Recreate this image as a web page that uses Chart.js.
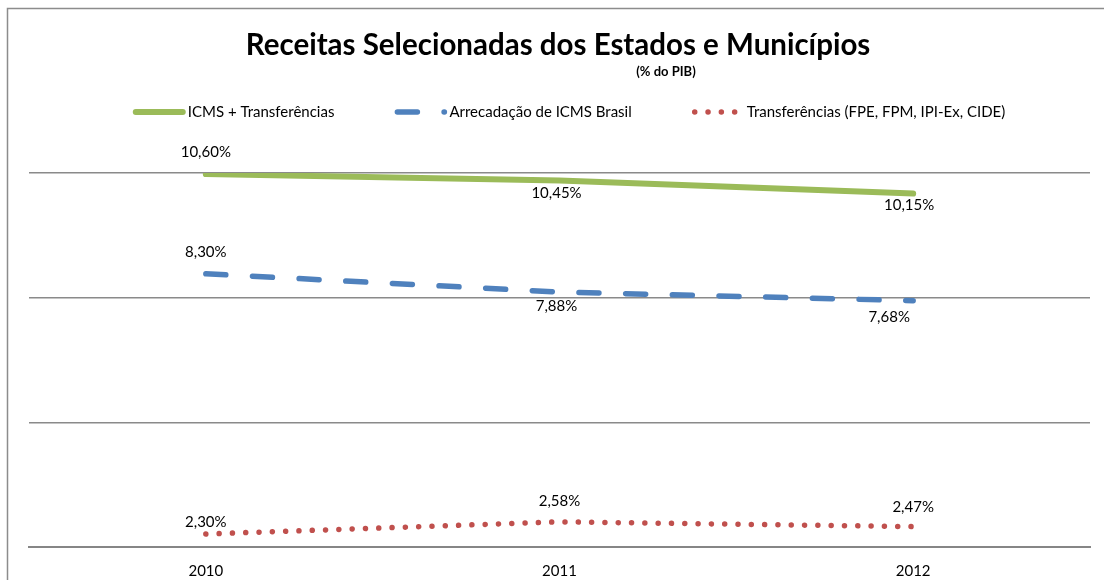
<!DOCTYPE html>
<html>
<head>
<meta charset="utf-8">
<script src="https://cdn.jsdelivr.net/npm/chart.js@4"></script>
<style>
  body { margin: 0; background: #fff; }
  #wrap { width: 1104px; height: 580px; position: relative; }
</style>
</head>
<body>
<div id="wrap"><canvas id="myChart" width="1104" height="580"></canvas></div>
<script>
// ! chart data
const years = ["2010", "2011", "2012"];
const icmsTransf = [10.6, 10.45, 10.15];
const icmsBrasil = [8.3, 7.88, 7.68];
const transferencias = [2.3, 2.58, 2.47];
const seriesNames = [
  "ICMS + Transferências",
  "Arrecadação de ICMS Brasil",
  "Transferências (FPE, FPM, IPI-Ex, CIDE)",
];

// y axis range (the axis has no labels, only grid lines)
const yMin = 2;
const yMax = 10.625;
const yStep = 2.875;

const titleText = "Receitas Selecionadas dos Estados e Municípios";
const subtitleText = "(% do PIB)";

const FONT = "Lato, 'Open Sans', sans-serif";

// where each data label sits relative to its point
const labelShift = [
  { dx: [0, -3, -4], dy: [-22, 13, 12] },
  { dx: [0, -3, -24], dy: [-22, 14, 16] },
  { dx: [0, 0, 0], dy: [-12, -21, -19] },
];

function fmt(v) {
  return v.toFixed(2).replace(".", ",") + "%";
}

// ! frame, title and legend drawn by hand
const decorPlugin = {
  id: "decor",
  beforeDraw(chart) {
    const ctx = chart.ctx;
    ctx.save();
    ctx.fillStyle = "#fff";
    ctx.fillRect(0, 0, chart.width, chart.height);

    // chart border (only left and top are visible)
    ctx.strokeStyle = "#8c8c8c";
    ctx.lineWidth = 1.5;
    ctx.beginPath();
    ctx.moveTo(7.5, chart.height);
    ctx.lineTo(7.5, 8.5);
    ctx.lineTo(chart.width, 8.5);
    ctx.stroke();

    // title
    ctx.fillStyle = "#000";
    ctx.textAlign = "center";
    ctx.textBaseline = "middle";
    ctx.font = "bold 29.5px " + FONT;
    ctx.fillText(titleText, 558, 45);
    ctx.font = "bold 13px " + FONT;
    ctx.fillText(subtitleText, 666, 72);

    // legend
    ctx.font = "15px " + FONT;
    const textGap = 55;
    const itemGap = 60;
    const widths = seriesNames.map((n) => textGap + ctx.measureText(n).width);
    const total = widths.reduce((a, b) => a + b, 0) + itemGap * (widths.length - 1);
    let x = 569 - total / 2;
    const y = 112;
    chart.data.datasets.forEach((ds, i) => {
      ctx.save();
      ctx.strokeStyle = ds.borderColor;
      ctx.lineWidth = ds.borderWidth;
      ctx.lineCap = ds.borderCapStyle;
      ctx.setLineDash(ds.borderDash || []);
      ctx.beginPath();
      ctx.moveTo(x + 3, y);
      ctx.lineTo(x + 50, y);
      ctx.stroke();
      ctx.restore();
      ctx.fillStyle = "#000";
      ctx.textAlign = "left";
      ctx.fillText(ds.label, x + textGap, y);
      x += widths[i] + itemGap;
    });
    ctx.restore();
  },
  afterDatasetsDraw(chart) {
    const ctx = chart.ctx;
    ctx.save();
    ctx.font = "15px " + FONT;
    ctx.fillStyle = "#000";
    ctx.textAlign = "center";
    ctx.textBaseline = "middle";
    chart.data.datasets.forEach((ds, i) => {
      const meta = chart.getDatasetMeta(i);
      meta.data.forEach((pt, j) => {
        const s = labelShift[i];
        ctx.fillText(fmt(ds.data[j]), pt.x + s.dx[j], pt.y + s.dy[j]);
      });
    });
    ctx.restore();
  },
};

const config = {
  type: "line",
  data: {
    labels: years,
    datasets: [
      {
        label: seriesNames[0],
        data: icmsTransf,
        borderColor: "#9BBB59",
        borderWidth: 6,
        borderCapStyle: "round",
        borderDash: [],
      },
      {
        label: seriesNames[1],
        data: icmsBrasil,
        borderColor: "#4F81BD",
        borderWidth: 5.5,
        borderCapStyle: "round",
        borderDash: [20, 26.7],
      },
      {
        label: seriesNames[2],
        data: transferencias,
        borderColor: "#C0504D",
        borderWidth: 5.5,
        borderCapStyle: "round",
        borderDash: [0.01, 13.3],
      },
    ],
  },
  options: {
    responsive: false,
    animation: false,
    devicePixelRatio: 1,
    layout: { padding: { top: 173, left: 29, right: 14, bottom: 0 } },
    elements: {
      point: { radius: 0 },
      line: { tension: 0, fill: false },
    },
    plugins: {
      legend: { display: false },
      title: { display: false },
      tooltip: { enabled: false },
    },
    scales: {
      x: {
        offset: true,
        grid: { display: false, drawTicks: false },
        border: { display: true, color: "#868686", width: 2 },
        ticks: { color: "#000", font: { family: FONT, size: 15 }, padding: 15 },
        afterFit: (s) => {
          s.height = 33;
        },
      },
      y: {
        min: yMin,
        max: yMax,
        ticks: { display: false, stepSize: yStep },
        grid: { color: "#8a8a8a", lineWidth: 1.5, drawTicks: false },
        border: { display: false },
        afterFit: (s) => {
          s.width = 0;
        },
      },
    },
  },
  plugins: [decorPlugin],
};

const myChart = new Chart(document.getElementById("myChart"), config);
</script>
</body>
</html>
